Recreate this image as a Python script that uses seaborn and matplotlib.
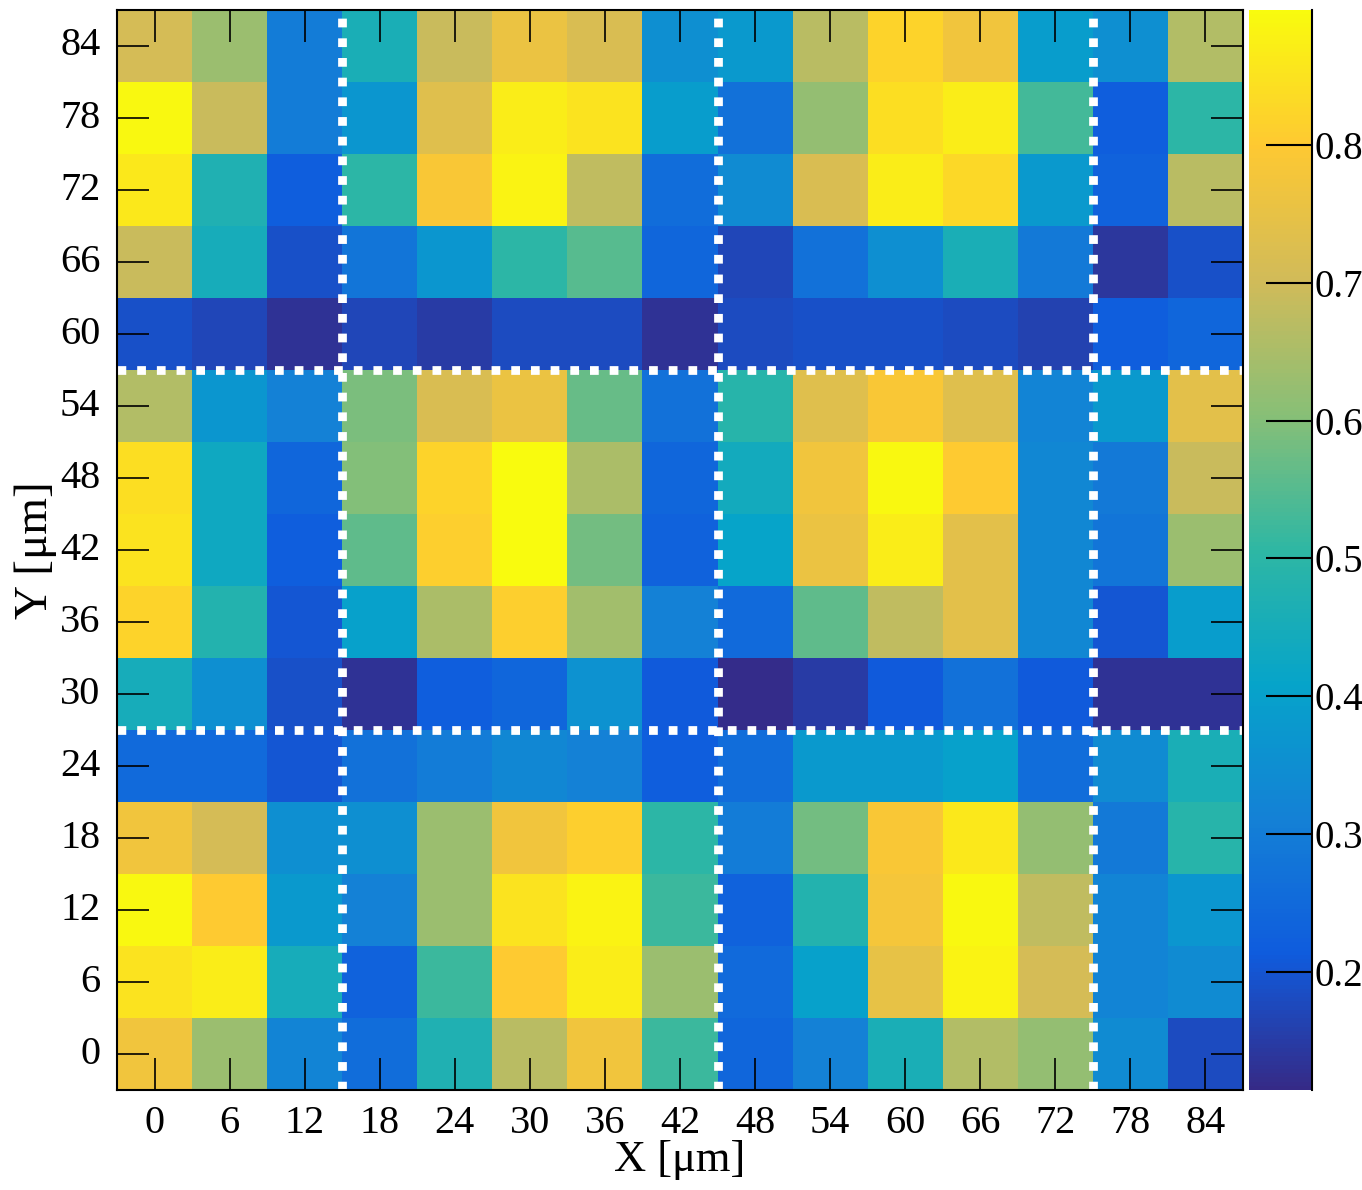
import numpy as np
import pandas as pd
import seaborn as sns
import matplotlib.pyplot as plt
from matplotlib.colors import LinearSegmentedColormap

# x / y positions in um (bin centres)
x_um = [0, 6, 12, 18, 24, 30, 36, 42, 48, 54, 60, 66, 72, 78, 84]
y_um = [84, 78, 72, 66, 60, 54, 48, 42, 36, 30, 24, 18, 12, 6, 0]

# cell values, one row per y (top to bottom)
row_84 = [0.71, 0.63, 0.30, 0.46, 0.69, 0.76, 0.72, 0.35, 0.38, 0.67, 0.82, 0.77, 0.39, 0.35, 0.66]
row_78 = [0.89, 0.69, 0.30, 0.37, 0.73, 0.87, 0.85, 0.39, 0.27, 0.62, 0.84, 0.87, 0.53, 0.22, 0.50]
row_72 = [0.86, 0.47, 0.22, 0.50, 0.79, 0.88, 0.68, 0.26, 0.34, 0.72, 0.87, 0.83, 0.38, 0.23, 0.67]
row_66 = [0.69, 0.45, 0.19, 0.28, 0.37, 0.50, 0.55, 0.24, 0.17, 0.27, 0.35, 0.46, 0.29, 0.14, 0.19]
row_60 = [0.19, 0.17, 0.13, 0.17, 0.15, 0.18, 0.18, 0.13, 0.18, 0.19, 0.19, 0.18, 0.16, 0.22, 0.24]
row_54 = [0.66, 0.37, 0.31, 0.59, 0.72, 0.76, 0.57, 0.27, 0.49, 0.73, 0.79, 0.73, 0.32, 0.38, 0.74]
row_48 = [0.84, 0.43, 0.24, 0.60, 0.82, 0.90, 0.65, 0.24, 0.44, 0.77, 0.89, 0.80, 0.33, 0.29, 0.69]
row_42 = [0.85, 0.43, 0.22, 0.56, 0.81, 0.90, 0.58, 0.23, 0.41, 0.76, 0.87, 0.74, 0.33, 0.28, 0.63]
row_36 = [0.82, 0.48, 0.20, 0.40, 0.65, 0.81, 0.64, 0.31, 0.25, 0.56, 0.68, 0.74, 0.33, 0.20, 0.39]
row_30 = [0.45, 0.35, 0.19, 0.13, 0.22, 0.24, 0.36, 0.21, 0.12, 0.15, 0.21, 0.27, 0.21, 0.13, 0.13]
row_24 = [0.25, 0.25, 0.20, 0.27, 0.30, 0.33, 0.31, 0.22, 0.26, 0.38, 0.38, 0.40, 0.26, 0.34, 0.46]
row_18 = [0.77, 0.71, 0.35, 0.35, 0.63, 0.77, 0.81, 0.50, 0.30, 0.58, 0.79, 0.86, 0.62, 0.29, 0.49]
row_12 = [0.89, 0.80, 0.38, 0.31, 0.63, 0.85, 0.88, 0.52, 0.23, 0.48, 0.78, 0.89, 0.68, 0.32, 0.37]
row_6 = [0.85, 0.87, 0.45, 0.23, 0.52, 0.80, 0.87, 0.63, 0.25, 0.40, 0.75, 0.88, 0.71, 0.32, 0.34]
row_0 = [0.77, 0.63, 0.32, 0.26, 0.47, 0.67, 0.77, 0.52, 0.24, 0.31, 0.46, 0.66, 0.62, 0.34, 0.18]

# dotted boundaries (um)
x_bounds = [15, 45, 75]
y_bounds = [27, 57]

rows = [row_84, row_78, row_72, row_66, row_60, row_54, row_48, row_42,
        row_36, row_30, row_24, row_18, row_12, row_6, row_0]
df = pd.DataFrame(rows, index=y_um, columns=x_um)

# ROOT kBird palette
stops = np.linspace(0, 1, 9)
red = [0.2082, 0.0592, 0.0780, 0.0232, 0.1802, 0.5301, 0.8186, 0.9956, 0.9764]
green = [0.1664, 0.3599, 0.5041, 0.6419, 0.7178, 0.7492, 0.7328, 0.7862, 0.9832]
blue = [0.5293, 0.8684, 0.8385, 0.7914, 0.6425, 0.4662, 0.3499, 0.1968, 0.0539]
bird = LinearSegmentedColormap.from_list(
    'bird', [(s, (r, g, b)) for s, r, g, b in zip(stops, red, green, blue)])

plt.rcParams['font.family'] = ['Liberation Serif', 'DejaVu Serif']

fig = plt.figure(figsize=(13.62, 11.90), dpi=100)
ax = fig.add_axes([0.0859, 0.084, 0.8267, 0.9076])
cax = fig.add_axes([0.917, 0.084, 0.0463, 0.9076])

sns.heatmap(df, ax=ax, cmap=bird, vmin=0.114, vmax=0.898, cbar=True, cbar_ax=cax,
            linewidths=0, square=False)

# dotted white lines at module boundaries
for xb in x_bounds:
    ax.axvline(xb / 6 + 0.5, color='white', lw=6.3, linestyle=(0, (1, 1.25)))
for yb in y_bounds:
    ax.axhline((84 - yb) / 6 + 0.5, color='white', lw=6.3, linestyle=(0, (1, 1.25)))

ax.set_xticks(np.arange(len(x_um)) + 0.5)
ax.set_xticklabels([str(v) for v in x_um], rotation=0)
ax.set_yticks(np.arange(len(y_um)) + 0.5)
ax.set_yticklabels([str(v) for v in y_um], rotation=0)
ax.tick_params(axis='both', direction='in', length=23, width=1.2, labelsize=29,
               top=True, right=True, color='black')
ax.tick_params(axis='x', pad=11)
ax.tick_params(axis='y', pad=12)
for s in ax.spines.values():
    s.set_visible(True)
    s.set_linewidth(1.5)
    s.set_zorder(5)

ax.set_xlabel('X [μm]', fontsize=32, labelpad=-2)
ax.set_ylabel('Y [μm]', fontsize=34, labelpad=2)

cbar = ax.collections[0].colorbar
cbar.outline.set_visible(False)
cbar.set_ticks([0.2, 0.3, 0.4, 0.5, 0.6, 0.7, 0.8])
cbar.set_ticklabels(['0.2', '0.3', '0.4', '0.5', '0.6', '0.7', '0.8'])
cax.tick_params(direction='in', length=33, width=1.5, labelsize=28, pad=2,
                right=True, left=False)
cax.plot([1, 1], [0, 1], transform=cax.transAxes, color='black', lw=1.5,
         clip_on=False)

fig.savefig('out.png', dpi=100)
